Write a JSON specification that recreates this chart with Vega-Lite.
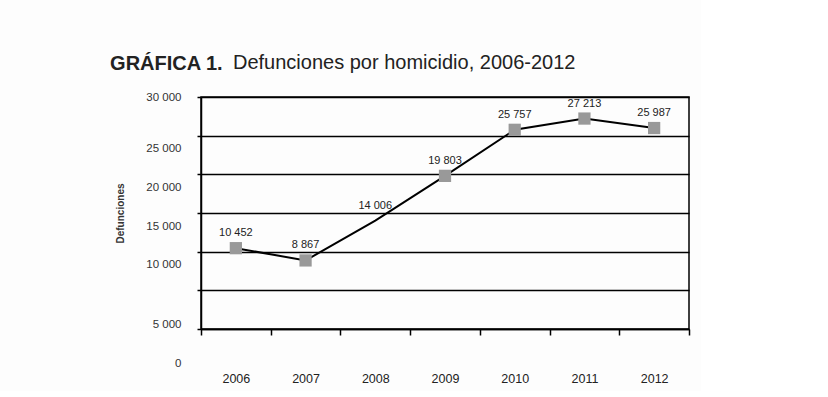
{
  "$schema": "https://vega.github.io/schema/vega-lite/v6.json",
  "background": "#fdfdfd",
  "padding": {"left": 110, "top": 52, "right": 10, "bottom": 5},
  "config": {
    "locale": {"number": {"decimal": ",", "thousands": " ", "grouping": [3], "currency": ["$", ""]}},
    "font": "Liberation Sans",
    "view": {"stroke": "#000", "strokeWidth": 1.5}
  },
  "title": {"text": "GRÁFICA 1.", "anchor": "start", "fontSize": 20, "fontWeight": "bold", "color": "#222", "font": "Liberation Sans", "baseline": "alphabetic", "offset": -38, "dx": -5},
  "datasets": {
    "d": [
      {"anio": 2006, "defunciones": 10452},
      {"anio": 2007, "defunciones": 8867},
      {"anio": 2008, "defunciones": 14006},
      {"anio": 2009, "defunciones": 19803},
      {"anio": 2010, "defunciones": 25757},
      {"anio": 2011, "defunciones": 27213},
      {"anio": 2012, "defunciones": 25987}
    ]
  },
  "vconcat": [
    {
      "title": {"text": "Defunciones por homicidio, 2006-2012", "anchor": "start", "frame": "group", "fontSize": 20, "fontWeight": "normal", "color": "#222", "font": "Liberation Sans", "baseline": "alphabetic", "offset": 2, "dx": 32},
      "width": 488,
      "height": 232,
      "data": {"name": "d"},
      "encoding": {
        "x": {
          "field": "anio", "type": "ordinal",
          "scale": {"type": "band", "paddingInner": 0, "paddingOuter": 0},
          "axis": {"title": null, "tickBand": "extent", "labelAngle": 0, "labelPadding": 37, "labelFontSize": 12.5, "labelColor": "#222", "tickColor": "#000", "tickSize": 6, "tickWidth": 1.5, "domainColor": "#000", "domainWidth": 1.5, "grid": false}
        },
        "y": {
          "field": "defunciones", "type": "quantitative",
          "scale": {"domain": [0, 30000], "nice": false},
          "axis": {
            "title": "Defunciones", "titleFontSize": 10, "titleFontWeight": "bold", "titleColor": "#333", "titlePadding": 20,
            "values": [0, 5000, 10000, 15000, 20000, 25000, 30000],
            "format": ",.0f",
            "grid": true, "gridColor": "#000", "gridWidth": 1.5, "gridOpacity": 1,
            "domainColor": "#000", "domainWidth": 1.5, "tickColor": "#000", "tickSize": 4, "tickWidth": 1.5,
            "labelFontSize": 11.5, "labelColor": "#333", "labelPadding": 16,
            "labelOffset": {"condition": [{"test": "datum.value == 30000", "value": 0}, {"test": "datum.value <= 5000", "value": 34}], "value": 13}
          }
        }
      },
      "layer": [
        {"mark": {"type": "line", "color": "#000", "strokeWidth": 2}},
        {"transform": [{"filter": "datum.anio != 2008"}], "mark": {"type": "square", "color": "#999999", "opacity": 1, "size": 150, "filled": true}},
        {"mark": {"type": "text", "dy": -15, "fontSize": 11, "color": "#222"}, "encoding": {"text": {"field": "defunciones", "type": "quantitative", "format": ",.0f"}}}
      ]
    }
  ]
}
